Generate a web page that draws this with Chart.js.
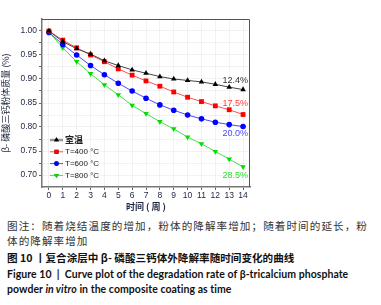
<!DOCTYPE html>
<html>
<head>
<meta charset="utf-8">
<script src="https://cdn.jsdelivr.net/npm/chart.js@4"></script>
<style>
  html, body { margin: 0; padding: 0; background: #fff; }
  #wrap { position: relative; width: 381px; height: 213px; }
  .cap { position: absolute; left: 7px; white-space: nowrap; }
  .zh { font-family: "Noto Sans CJK SC", sans-serif; font-size: 10.6px; color: #333; letter-spacing: 1.05px; }
  .zhb { font-family: "Noto Sans CJK SC", sans-serif; font-size: 10.6px; font-weight: bold; color: #111; }
  .en { font-family: Lato, "Open Sans", sans-serif; font-size: 10.5px; font-weight: bold; color: #111; letter-spacing: 0.05px; }
</style>
</head>
<body>
<div id="wrap"><canvas id="c" width="381" height="213"></canvas></div>
<div class="cap zh" style="top:218px;">图注：随着烧结温度的增加，粉体的降解率增加；随着时间的延长，粉</div>
<div class="cap zh" style="top:233px;">体的降解率增加</div>
<div class="cap zhb" style="top:250px;">图 10 丨复合涂层中 β- 磷酸三钙体外降解率随时间变化的曲线</div>
<div class="cap en" style="top:268px;">Figure 10 &nbsp;| &nbsp;Curve plot of the degradation rate of β-tricalcium phosphate</div>
<div class="cap en" style="top:283px;">powder <i>in vitro</i> in the composite coating as time</div>
<script>
const weeks = [0,1,2,3,4,5,6,7,8,9,10,11,12,13,14];
const seriesNames = ['室温', 'T=400 °C', 'T=600 °C', 'T=800 °C'];
const roomTemp = [1.000,0.978,0.963,0.952,0.938,0.928,0.919,0.912,0.905,0.900,0.897,0.894,0.889,0.883,0.878];
const t400 = [1.000,0.981,0.965,0.950,0.936,0.921,0.908,0.896,0.885,0.873,0.862,0.853,0.844,0.836,0.826];
const t600 = [0.997,0.972,0.950,0.928,0.909,0.891,0.875,0.860,0.846,0.835,0.825,0.817,0.810,0.805,0.801];
const t800 = [0.998,0.965,0.936,0.911,0.888,0.867,0.845,0.828,0.811,0.796,0.779,0.765,0.749,0.733,0.717];
const endLabels = ['12.4%', '17.5%', '20.0%', '28.5%'];
const yLabelTicks = [0.70,0.75,0.80,0.85,0.90,0.95,1.00];

const lineCols = ['#444444', '#ff5050', '#4a4aff', '#44e044'];
const ptCols = ['#000000', '#ff0000', '#0000ff', '#00dd00'];
const labelCols = ['#333333', '#ff4040', '#4848ff', '#30e030'];
const ptStyles = ['triangle', 'rect', 'circle', 'triangle'];
const ptRot = [0, 0, 0, 180];
const ptRad = [3.2, 3.4, 2.8, 3.2];
const labelDy = [-9, -11, 7, 9];

const allSeries = [roomTemp, t400, t600, t800];
const datasets = allSeries.map((s, i) => ({
  label: seriesNames[i],
  data: weeks.map((w, j) => ({x: w, y: s[j]})),
  borderColor: lineCols[i],
  borderWidth: 1,
  backgroundColor: ptCols[i],
  pointBackgroundColor: ptCols[i],
  pointBorderColor: ptCols[i],
  pointBorderWidth: 0,
  pointStyle: ptStyles[i],
  pointRotation: ptRot[i],
  pointRadius: ptRad[i],
  tension: 0
}));

const framePlugin = {
  id: 'frame',
  afterDatasetsDraw(chart) {
    const {ctx, chartArea: a} = chart;
    ctx.save();
    ctx.strokeStyle = '#555';
    ctx.lineWidth = 1;
    ctx.beginPath();
    ctx.moveTo(a.left, a.top + 0.5);
    ctx.lineTo(a.right - 0.5, a.top + 0.5);
    ctx.lineTo(a.right - 0.5, a.bottom);
    ctx.stroke();
    ctx.restore();
  }
};

const endLabelPlugin = {
  id: 'endLabels',
  afterDatasetsDraw(chart) {
    const {ctx} = chart;
    const xs = chart.scales.x, ys = chart.scales.y;
    ctx.save();
    ctx.font = '9px "Liberation Sans", Arial, sans-serif';
    ctx.textAlign = 'right';
    ctx.textBaseline = 'middle';
    allSeries.forEach((s, i) => {
      const x = xs.getPixelForValue(weeks[weeks.length - 1]) + 5;
      const y = ys.getPixelForValue(s[s.length - 1]) + labelDy[i];
      ctx.fillStyle = labelCols[i];
      ctx.fillText(endLabels[i], x, y);
    });
    ctx.restore();
  }
};

const legendPlugin = {
  id: 'innerLegend',
  afterDatasetsDraw(chart) {
    const {ctx, chartArea: a} = chart;
    ctx.save();
    const x0 = a.left + 8, x1 = a.left + 21, tx = a.left + 23;
    const yStart = a.top + 121, dy = 11.8;
    chart.data.datasets.forEach((ds, i) => {
      const y = yStart + i * dy;
      ctx.beginPath();
      if (i === 0) { ctx.strokeStyle = '#999'; ctx.lineWidth = 2.5; }
      else { ctx.strokeStyle = ds.borderColor; ctx.lineWidth = 1; }
      ctx.moveTo(x0, y); ctx.lineTo(x1, y); ctx.stroke();
      Chart.helpers.drawPoint(ctx, {pointStyle: ds.pointStyle, rotation: ds.pointRotation, radius: ds.pointRadius * 0.85, borderWidth: 0},
        (x0 + x1) / 2, y);
      ctx.fillStyle = ds.pointBackgroundColor;
      ctx.fill();
      ctx.fillStyle = '#222';
      ctx.textBaseline = 'middle';
      ctx.textAlign = 'left';
      ctx.font = (i === 0 ? 'bold 9px "Noto Sans CJK SC"' : '8px "Liberation Sans", Arial, sans-serif');
      ctx.fillText(ds.label, tx, y);
    });
    ctx.restore();
  }
};

new Chart(document.getElementById('c'), {
  type: 'line',
  data: { datasets },
  options: {
    responsive: false,
    animation: false,
    layout: { padding: { top: 19, right: 131, left: 0, bottom: 0 } },
    plugins: { legend: { display: false }, tooltip: { enabled: false } },
    scales: {
      x: {
        type: 'linear',
        min: -0.5, max: 14.5,
        afterBuildTicks(scale) { scale.ticks = weeks.map(v => ({value: v})); },
        afterFit(scale) { scale.height = 26; },
        ticks: { color: '#1c2540', font: { size: 8.5, family: '"Liberation Sans", Arial, sans-serif' }, padding: 1, maxRotation: 0, autoSkip: false },
        grid: { color: 'rgba(0,0,0,0.05)', tickLength: 3, tickColor: '#666', drawTicks: true },
        border: { color: '#777', width: 1.5 },
        title: { display: true, text: '时间 ( 周 )', color: '#1c2540', font: { size: 9, weight: 'bold', family: '"Noto Sans CJK SC"' }, padding: { top: 0, bottom: 1 } }
      },
      y: {
        type: 'linear',
        min: 0.675, max: 1.025,
        afterBuildTicks(scale) {
          const t = [];
          for (let k = 0; k < yLabelTicks.length; k++) {
            t.push({value: yLabelTicks[k]});
            if (k < yLabelTicks.length - 1) t.push({value: (yLabelTicks[k] + yLabelTicks[k+1]) / 2});
          }
          scale.ticks = t;
        },
        afterFit(scale) { scale.width = 42; },
        ticks: {
          color: '#1c2540',
          font: { size: 8.5, family: '"Liberation Sans", Arial, sans-serif' },
          padding: 2,
          callback(v) { return yLabelTicks.some(t => Math.abs(t - v) < 1e-6) ? v.toFixed(2) : ''; }
        },
        grid: { color: 'rgba(0,0,0,0.05)', tickLength: 3, tickColor: '#666' },
        border: { color: '#777', width: 1.5 },
        title: { display: true, text: 'β- 磷酸三钙粉体质量 (%)', color: '#1c2540', font: { size: 9, family: '"Noto Sans CJK SC"' }, padding: { top: 0, bottom: 2 } }
      }
    }
  },
  plugins: [framePlugin, endLabelPlugin, legendPlugin]
});
</script>
</body>
</html>
